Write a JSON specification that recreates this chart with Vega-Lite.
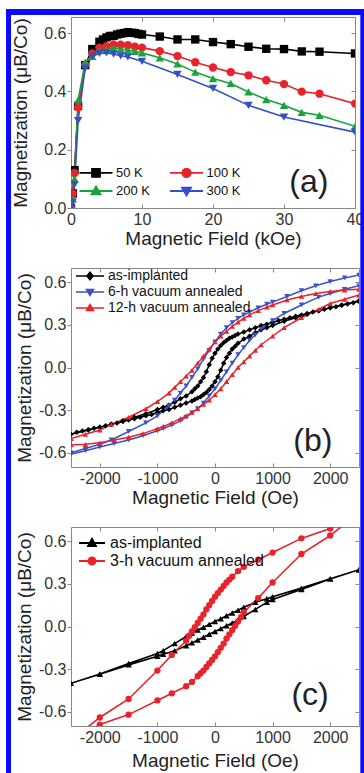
{
  "$schema": "https://vega.github.io/schema/vega-lite/v6.json",
  "padding": {"left": 2, "top": 6, "right": 0, "bottom": 0},
  "background": "white",
  "bounds": "flush",
  "spacing": 60,
  "resolve": {"scale": {"color": "independent", "shape": "independent"}, "legend": {"color": "independent", "shape": "independent"}},
  "datasets": {
    "a": [
      {"H":0,"M":0,"T":"50 K"},{"H":0.25,"M":0.05,"T":"50 K"},{"H":0.5,"M":0.13,"T":"50 K"},{"H":1,"M":0.35,"T":"50 K"},{"H":2,"M":0.49,"T":"50 K"},{"H":3,"M":0.545,"T":"50 K"},{"H":4,"M":0.57,"T":"50 K"},{"H":4.5,"M":0.578,"T":"50 K"},{"H":5,"M":0.585,"T":"50 K"},{"H":5.5,"M":0.59,"T":"50 K"},{"H":6,"M":0.59,"T":"50 K"},{"H":6.5,"M":0.595,"T":"50 K"},{"H":7,"M":0.598,"T":"50 K"},{"H":7.5,"M":0.6,"T":"50 K"},{"H":8,"M":0.603,"T":"50 K"},{"H":8.5,"M":0.601,"T":"50 K"},{"H":9,"M":0.6,"T":"50 K"},{"H":9.5,"M":0.597,"T":"50 K"},{"H":10,"M":0.595,"T":"50 K"},{"H":12.5,"M":0.588,"T":"50 K"},{"H":15,"M":0.578,"T":"50 K"},{"H":17.5,"M":0.578,"T":"50 K"},{"H":20,"M":0.569,"T":"50 K"},{"H":22.5,"M":0.562,"T":"50 K"},{"H":25,"M":0.553,"T":"50 K"},{"H":27.5,"M":0.546,"T":"50 K"},{"H":30,"M":0.545,"T":"50 K"},{"H":32.5,"M":0.537,"T":"50 K"},{"H":35,"M":0.536,"T":"50 K"},{"H":40,"M":0.53,"T":"50 K"},
      {"H":0,"M":0,"T":"100 K"},{"H":0.25,"M":0.05,"T":"100 K"},{"H":0.5,"M":0.12,"T":"100 K"},{"H":1,"M":0.345,"T":"100 K"},{"H":2,"M":0.49,"T":"100 K"},{"H":3,"M":0.53,"T":"100 K"},{"H":4,"M":0.55,"T":"100 K"},{"H":5,"M":0.555,"T":"100 K"},{"H":6,"M":0.56,"T":"100 K"},{"H":7,"M":0.56,"T":"100 K"},{"H":8,"M":0.558,"T":"100 K"},{"H":9,"M":0.553,"T":"100 K"},{"H":10,"M":0.55,"T":"100 K"},{"H":12.5,"M":0.538,"T":"100 K"},{"H":15,"M":0.521,"T":"100 K"},{"H":17.5,"M":0.5,"T":"100 K"},{"H":20,"M":0.482,"T":"100 K"},{"H":22.5,"M":0.466,"T":"100 K"},{"H":25,"M":0.455,"T":"100 K"},{"H":27.5,"M":0.438,"T":"100 K"},{"H":30,"M":0.425,"T":"100 K"},{"H":32.5,"M":0.399,"T":"100 K"},{"H":35,"M":0.392,"T":"100 K"},{"H":40,"M":0.358,"T":"100 K"},
      {"H":0,"M":0.01,"T":"200 K"},{"H":0.25,"M":0.03,"T":"200 K"},{"H":0.5,"M":0.1,"T":"200 K"},{"H":1,"M":0.37,"T":"200 K"},{"H":2,"M":0.5,"T":"200 K"},{"H":3,"M":0.52,"T":"200 K"},{"H":4,"M":0.54,"T":"200 K"},{"H":5,"M":0.545,"T":"200 K"},{"H":6,"M":0.548,"T":"200 K"},{"H":7,"M":0.545,"T":"200 K"},{"H":8,"M":0.542,"T":"200 K"},{"H":9,"M":0.537,"T":"200 K"},{"H":10,"M":0.532,"T":"200 K"},{"H":12.5,"M":0.515,"T":"200 K"},{"H":15,"M":0.494,"T":"200 K"},{"H":17.5,"M":0.466,"T":"200 K"},{"H":20,"M":0.444,"T":"200 K"},{"H":22.5,"M":0.427,"T":"200 K"},{"H":25,"M":0.398,"T":"200 K"},{"H":27.5,"M":0.372,"T":"200 K"},{"H":30,"M":0.352,"T":"200 K"},{"H":32.5,"M":0.328,"T":"200 K"},{"H":35,"M":0.318,"T":"200 K"},{"H":40,"M":0.28,"T":"200 K"},
      {"H":0,"M":0,"T":"300 K"},{"H":0.25,"M":0.02,"T":"300 K"},{"H":0.5,"M":0.08,"T":"300 K"},{"H":1,"M":0.3,"T":"300 K"},{"H":2,"M":0.48,"T":"300 K"},{"H":3,"M":0.52,"T":"300 K"},{"H":4,"M":0.53,"T":"300 K"},{"H":5,"M":0.532,"T":"300 K"},{"H":6,"M":0.528,"T":"300 K"},{"H":7,"M":0.522,"T":"300 K"},{"H":8,"M":0.518,"T":"300 K"},{"H":10,"M":0.503,"T":"300 K"},{"H":15,"M":0.458,"T":"300 K"},{"H":20,"M":0.41,"T":"300 K"},{"H":25,"M":0.352,"T":"300 K"},{"H":30,"M":0.312,"T":"300 K"},{"H":40,"M":0.26,"T":"300 K"}
    ],
    "b": [
      {"i":0,"H":2500,"M":0.465,"S":"as-implanted"},{"i":1,"H":2400,"M":0.455,"S":"as-implanted"},{"i":2,"H":2300,"M":0.447,"S":"as-implanted"},{"i":3,"H":2200,"M":0.438,"S":"as-implanted"},{"i":4,"H":2100,"M":0.428,"S":"as-implanted"},{"i":5,"H":2000,"M":0.42,"S":"as-implanted"},{"i":6,"H":1900,"M":0.41,"S":"as-implanted"},{"i":7,"H":1800,"M":0.4,"S":"as-implanted"},{"i":8,"H":1700,"M":0.39,"S":"as-implanted"},{"i":9,"H":1600,"M":0.38,"S":"as-implanted"},{"i":10,"H":1500,"M":0.37,"S":"as-implanted"},{"i":11,"H":1400,"M":0.36,"S":"as-implanted"},{"i":12,"H":1300,"M":0.35,"S":"as-implanted"},{"i":13,"H":1200,"M":0.34,"S":"as-implanted"},{"i":14,"H":1100,"M":0.33,"S":"as-implanted"},{"i":15,"H":1000,"M":0.315,"S":"as-implanted"},{"i":16,"H":900,"M":0.305,"S":"as-implanted"},{"i":17,"H":800,"M":0.295,"S":"as-implanted"},{"i":18,"H":700,"M":0.28,"S":"as-implanted"},{"i":19,"H":600,"M":0.265,"S":"as-implanted"},{"i":20,"H":500,"M":0.25,"S":"as-implanted"},{"i":21,"H":400,"M":0.235,"S":"as-implanted"},{"i":22,"H":350,"M":0.225,"S":"as-implanted"},{"i":23,"H":300,"M":0.215,"S":"as-implanted"},{"i":24,"H":250,"M":0.205,"S":"as-implanted"},{"i":25,"H":200,"M":0.19,"S":"as-implanted"},{"i":26,"H":150,"M":0.175,"S":"as-implanted"},{"i":27,"H":100,"M":0.155,"S":"as-implanted"},{"i":28,"H":50,"M":0.13,"S":"as-implanted"},{"i":29,"H":0,"M":0.1,"S":"as-implanted"},{"i":30,"H":-50,"M":0.065,"S":"as-implanted"},{"i":31,"H":-100,"M":0.02,"S":"as-implanted"},{"i":32,"H":-150,"M":-0.03,"S":"as-implanted"},{"i":33,"H":-200,"M":-0.07,"S":"as-implanted"},{"i":34,"H":-250,"M":-0.1,"S":"as-implanted"},{"i":35,"H":-300,"M":-0.13,"S":"as-implanted"},{"i":36,"H":-350,"M":-0.15,"S":"as-implanted"},{"i":37,"H":-400,"M":-0.17,"S":"as-implanted"},{"i":38,"H":-500,"M":-0.2,"S":"as-implanted"},{"i":39,"H":-600,"M":-0.22,"S":"as-implanted"},{"i":40,"H":-700,"M":-0.245,"S":"as-implanted"},{"i":41,"H":-800,"M":-0.265,"S":"as-implanted"},{"i":42,"H":-900,"M":-0.28,"S":"as-implanted"},{"i":43,"H":-1000,"M":-0.295,"S":"as-implanted"},{"i":44,"H":-1200,"M":-0.325,"S":"as-implanted"},{"i":45,"H":-1400,"M":-0.35,"S":"as-implanted"},{"i":46,"H":-1600,"M":-0.375,"S":"as-implanted"},{"i":47,"H":-1800,"M":-0.4,"S":"as-implanted"},{"i":48,"H":-2000,"M":-0.42,"S":"as-implanted"},{"i":49,"H":-2200,"M":-0.44,"S":"as-implanted"},{"i":50,"H":-2500,"M":-0.47,"S":"as-implanted"},
      {"i":51,"H":-2400,"M":-0.455,"S":"as-implanted"},{"i":52,"H":-2300,"M":-0.447,"S":"as-implanted"},{"i":53,"H":-2200,"M":-0.438,"S":"as-implanted"},{"i":54,"H":-2100,"M":-0.428,"S":"as-implanted"},{"i":55,"H":-2000,"M":-0.42,"S":"as-implanted"},{"i":56,"H":-1900,"M":-0.41,"S":"as-implanted"},{"i":57,"H":-1800,"M":-0.4,"S":"as-implanted"},{"i":58,"H":-1700,"M":-0.39,"S":"as-implanted"},{"i":59,"H":-1600,"M":-0.38,"S":"as-implanted"},{"i":60,"H":-1500,"M":-0.37,"S":"as-implanted"},{"i":61,"H":-1400,"M":-0.36,"S":"as-implanted"},{"i":62,"H":-1300,"M":-0.35,"S":"as-implanted"},{"i":63,"H":-1200,"M":-0.34,"S":"as-implanted"},{"i":64,"H":-1100,"M":-0.33,"S":"as-implanted"},{"i":65,"H":-1000,"M":-0.315,"S":"as-implanted"},{"i":66,"H":-900,"M":-0.305,"S":"as-implanted"},{"i":67,"H":-800,"M":-0.295,"S":"as-implanted"},{"i":68,"H":-700,"M":-0.28,"S":"as-implanted"},{"i":69,"H":-600,"M":-0.265,"S":"as-implanted"},{"i":70,"H":-500,"M":-0.25,"S":"as-implanted"},{"i":71,"H":-400,"M":-0.235,"S":"as-implanted"},{"i":72,"H":-350,"M":-0.225,"S":"as-implanted"},{"i":73,"H":-300,"M":-0.215,"S":"as-implanted"},{"i":74,"H":-250,"M":-0.205,"S":"as-implanted"},{"i":75,"H":-200,"M":-0.19,"S":"as-implanted"},{"i":76,"H":-150,"M":-0.175,"S":"as-implanted"},{"i":77,"H":-100,"M":-0.155,"S":"as-implanted"},{"i":78,"H":-50,"M":-0.13,"S":"as-implanted"},{"i":79,"H":0,"M":-0.1,"S":"as-implanted"},{"i":80,"H":50,"M":-0.065,"S":"as-implanted"},{"i":81,"H":100,"M":-0.02,"S":"as-implanted"},{"i":82,"H":150,"M":0.03,"S":"as-implanted"},{"i":83,"H":200,"M":0.07,"S":"as-implanted"},{"i":84,"H":250,"M":0.1,"S":"as-implanted"},{"i":85,"H":300,"M":0.13,"S":"as-implanted"},{"i":86,"H":350,"M":0.15,"S":"as-implanted"},{"i":87,"H":400,"M":0.17,"S":"as-implanted"},{"i":88,"H":500,"M":0.2,"S":"as-implanted"},{"i":89,"H":600,"M":0.22,"S":"as-implanted"},{"i":90,"H":700,"M":0.245,"S":"as-implanted"},{"i":91,"H":800,"M":0.265,"S":"as-implanted"},{"i":92,"H":900,"M":0.28,"S":"as-implanted"},{"i":93,"H":1000,"M":0.295,"S":"as-implanted"},{"i":94,"H":1200,"M":0.325,"S":"as-implanted"},{"i":95,"H":1400,"M":0.35,"S":"as-implanted"},{"i":96,"H":1600,"M":0.375,"S":"as-implanted"},{"i":97,"H":1800,"M":0.4,"S":"as-implanted"},{"i":98,"H":2000,"M":0.42,"S":"as-implanted"},{"i":99,"H":2200,"M":0.44,"S":"as-implanted"},{"i":100,"H":2500,"M":0.47,"S":"as-implanted"},
      {"i":0,"H":2500,"M":0.65,"S":"6-h vacuum annealed"},{"i":1,"H":2250,"M":0.63,"S":"6-h vacuum annealed"},{"i":2,"H":2000,"M":0.605,"S":"6-h vacuum annealed"},{"i":3,"H":1750,"M":0.575,"S":"6-h vacuum annealed"},{"i":4,"H":1500,"M":0.54,"S":"6-h vacuum annealed"},{"i":5,"H":1250,"M":0.5,"S":"6-h vacuum annealed"},{"i":6,"H":1000,"M":0.46,"S":"6-h vacuum annealed"},{"i":7,"H":900,"M":0.445,"S":"6-h vacuum annealed"},{"i":8,"H":750,"M":0.42,"S":"6-h vacuum annealed"},{"i":9,"H":600,"M":0.39,"S":"6-h vacuum annealed"},{"i":10,"H":500,"M":0.37,"S":"6-h vacuum annealed"},{"i":11,"H":400,"M":0.345,"S":"6-h vacuum annealed"},{"i":12,"H":300,"M":0.315,"S":"6-h vacuum annealed"},{"i":13,"H":200,"M":0.28,"S":"6-h vacuum annealed"},{"i":14,"H":100,"M":0.235,"S":"6-h vacuum annealed"},{"i":15,"H":0,"M":0.18,"S":"6-h vacuum annealed"},{"i":16,"H":-100,"M":0.12,"S":"6-h vacuum annealed"},{"i":17,"H":-200,"M":0.06,"S":"6-h vacuum annealed"},{"i":18,"H":-300,"M":-0.01,"S":"6-h vacuum annealed"},{"i":19,"H":-400,"M":-0.07,"S":"6-h vacuum annealed"},{"i":20,"H":-500,"M":-0.13,"S":"6-h vacuum annealed"},{"i":21,"H":-600,"M":-0.18,"S":"6-h vacuum annealed"},{"i":22,"H":-700,"M":-0.23,"S":"6-h vacuum annealed"},{"i":23,"H":-800,"M":-0.27,"S":"6-h vacuum annealed"},{"i":24,"H":-1000,"M":-0.34,"S":"6-h vacuum annealed"},{"i":25,"H":-1200,"M":-0.39,"S":"6-h vacuum annealed"},{"i":26,"H":-1500,"M":-0.45,"S":"6-h vacuum annealed"},{"i":27,"H":-1800,"M":-0.51,"S":"6-h vacuum annealed"},{"i":28,"H":-2000,"M":-0.54,"S":"6-h vacuum annealed"},{"i":29,"H":-2250,"M":-0.57,"S":"6-h vacuum annealed"},{"i":30,"H":-2500,"M":-0.6,"S":"6-h vacuum annealed"},
      {"i":31,"H":-2500,"M":-0.61,"S":"6-h vacuum annealed"},{"i":32,"H":-2250,"M":-0.585,"S":"6-h vacuum annealed"},{"i":33,"H":-2000,"M":-0.56,"S":"6-h vacuum annealed"},{"i":34,"H":-1750,"M":-0.535,"S":"6-h vacuum annealed"},{"i":35,"H":-1500,"M":-0.51,"S":"6-h vacuum annealed"},{"i":36,"H":-1250,"M":-0.48,"S":"6-h vacuum annealed"},{"i":37,"H":-1000,"M":-0.445,"S":"6-h vacuum annealed"},{"i":38,"H":-900,"M":-0.43,"S":"6-h vacuum annealed"},{"i":39,"H":-750,"M":-0.405,"S":"6-h vacuum annealed"},{"i":40,"H":-600,"M":-0.375,"S":"6-h vacuum annealed"},{"i":41,"H":-500,"M":-0.35,"S":"6-h vacuum annealed"},{"i":42,"H":-400,"M":-0.32,"S":"6-h vacuum annealed"},{"i":43,"H":-300,"M":-0.29,"S":"6-h vacuum annealed"},{"i":44,"H":-200,"M":-0.25,"S":"6-h vacuum annealed"},{"i":45,"H":-100,"M":-0.2,"S":"6-h vacuum annealed"},{"i":46,"H":0,"M":-0.15,"S":"6-h vacuum annealed"},{"i":47,"H":100,"M":-0.09,"S":"6-h vacuum annealed"},{"i":48,"H":200,"M":-0.03,"S":"6-h vacuum annealed"},{"i":49,"H":300,"M":0.03,"S":"6-h vacuum annealed"},{"i":50,"H":400,"M":0.09,"S":"6-h vacuum annealed"},{"i":51,"H":500,"M":0.14,"S":"6-h vacuum annealed"},{"i":52,"H":600,"M":0.19,"S":"6-h vacuum annealed"},{"i":53,"H":700,"M":0.23,"S":"6-h vacuum annealed"},{"i":54,"H":800,"M":0.27,"S":"6-h vacuum annealed"},{"i":55,"H":1000,"M":0.33,"S":"6-h vacuum annealed"},{"i":56,"H":1200,"M":0.38,"S":"6-h vacuum annealed"},{"i":57,"H":1500,"M":0.44,"S":"6-h vacuum annealed"},{"i":58,"H":1800,"M":0.495,"S":"6-h vacuum annealed"},{"i":59,"H":2000,"M":0.52,"S":"6-h vacuum annealed"},{"i":60,"H":2250,"M":0.55,"S":"6-h vacuum annealed"},{"i":61,"H":2500,"M":0.575,"S":"6-h vacuum annealed"},
      {"i":0,"H":2500,"M":0.55,"S":"12-h vacuum annealed"},{"i":1,"H":2250,"M":0.545,"S":"12-h vacuum annealed"},{"i":2,"H":2000,"M":0.535,"S":"12-h vacuum annealed"},{"i":3,"H":1750,"M":0.52,"S":"12-h vacuum annealed"},{"i":4,"H":1500,"M":0.5,"S":"12-h vacuum annealed"},{"i":5,"H":1250,"M":0.475,"S":"12-h vacuum annealed"},{"i":6,"H":1000,"M":0.44,"S":"12-h vacuum annealed"},{"i":7,"H":900,"M":0.425,"S":"12-h vacuum annealed"},{"i":8,"H":750,"M":0.4,"S":"12-h vacuum annealed"},{"i":9,"H":600,"M":0.37,"S":"12-h vacuum annealed"},{"i":10,"H":500,"M":0.345,"S":"12-h vacuum annealed"},{"i":11,"H":400,"M":0.32,"S":"12-h vacuum annealed"},{"i":12,"H":300,"M":0.29,"S":"12-h vacuum annealed"},{"i":13,"H":200,"M":0.255,"S":"12-h vacuum annealed"},{"i":14,"H":100,"M":0.22,"S":"12-h vacuum annealed"},{"i":15,"H":0,"M":0.18,"S":"12-h vacuum annealed"},{"i":16,"H":-100,"M":0.13,"S":"12-h vacuum annealed"},{"i":17,"H":-200,"M":0.08,"S":"12-h vacuum annealed"},{"i":18,"H":-300,"M":0.03,"S":"12-h vacuum annealed"},{"i":19,"H":-400,"M":-0.02,"S":"12-h vacuum annealed"},{"i":20,"H":-500,"M":-0.06,"S":"12-h vacuum annealed"},{"i":21,"H":-600,"M":-0.1,"S":"12-h vacuum annealed"},{"i":22,"H":-700,"M":-0.14,"S":"12-h vacuum annealed"},{"i":23,"H":-800,"M":-0.18,"S":"12-h vacuum annealed"},{"i":24,"H":-1000,"M":-0.24,"S":"12-h vacuum annealed"},{"i":25,"H":-1200,"M":-0.29,"S":"12-h vacuum annealed"},{"i":26,"H":-1500,"M":-0.35,"S":"12-h vacuum annealed"},{"i":27,"H":-1800,"M":-0.4,"S":"12-h vacuum annealed"},{"i":28,"H":-2000,"M":-0.44,"S":"12-h vacuum annealed"},{"i":29,"H":-2250,"M":-0.47,"S":"12-h vacuum annealed"},{"i":30,"H":-2500,"M":-0.5,"S":"12-h vacuum annealed"},
      {"i":31,"H":-2500,"M":-0.545,"S":"12-h vacuum annealed"},{"i":32,"H":-2250,"M":-0.54,"S":"12-h vacuum annealed"},{"i":33,"H":-2000,"M":-0.53,"S":"12-h vacuum annealed"},{"i":34,"H":-1750,"M":-0.51,"S":"12-h vacuum annealed"},{"i":35,"H":-1500,"M":-0.49,"S":"12-h vacuum annealed"},{"i":36,"H":-1250,"M":-0.465,"S":"12-h vacuum annealed"},{"i":37,"H":-1000,"M":-0.43,"S":"12-h vacuum annealed"},{"i":38,"H":-900,"M":-0.415,"S":"12-h vacuum annealed"},{"i":39,"H":-750,"M":-0.39,"S":"12-h vacuum annealed"},{"i":40,"H":-600,"M":-0.36,"S":"12-h vacuum annealed"},{"i":41,"H":-500,"M":-0.34,"S":"12-h vacuum annealed"},{"i":42,"H":-400,"M":-0.315,"S":"12-h vacuum annealed"},{"i":43,"H":-300,"M":-0.29,"S":"12-h vacuum annealed"},{"i":44,"H":-200,"M":-0.26,"S":"12-h vacuum annealed"},{"i":45,"H":-100,"M":-0.23,"S":"12-h vacuum annealed"},{"i":46,"H":0,"M":-0.19,"S":"12-h vacuum annealed"},{"i":47,"H":100,"M":-0.15,"S":"12-h vacuum annealed"},{"i":48,"H":200,"M":-0.1,"S":"12-h vacuum annealed"},{"i":49,"H":300,"M":-0.05,"S":"12-h vacuum annealed"},{"i":50,"H":400,"M":0,"S":"12-h vacuum annealed"},{"i":51,"H":500,"M":0.04,"S":"12-h vacuum annealed"},{"i":52,"H":600,"M":0.08,"S":"12-h vacuum annealed"},{"i":53,"H":700,"M":0.12,"S":"12-h vacuum annealed"},{"i":54,"H":800,"M":0.16,"S":"12-h vacuum annealed"},{"i":55,"H":1000,"M":0.22,"S":"12-h vacuum annealed"},{"i":56,"H":1200,"M":0.28,"S":"12-h vacuum annealed"},{"i":57,"H":1500,"M":0.35,"S":"12-h vacuum annealed"},{"i":58,"H":1800,"M":0.41,"S":"12-h vacuum annealed"},{"i":59,"H":2000,"M":0.45,"S":"12-h vacuum annealed"},{"i":60,"H":2250,"M":0.48,"S":"12-h vacuum annealed"},{"i":61,"H":2500,"M":0.51,"S":"12-h vacuum annealed"}
    ],
    "c": [
      {"i":0,"H":2500,"M":0.4,"S":"as-implanted"},{"i":1,"H":2000,"M":0.335,"S":"as-implanted"},{"i":2,"H":1500,"M":0.27,"S":"as-implanted"},{"i":3,"H":1000,"M":0.21,"S":"as-implanted"},{"i":4,"H":900,"M":0.195,"S":"as-implanted"},{"i":5,"H":700,"M":0.17,"S":"as-implanted"},{"i":6,"H":500,"M":0.135,"S":"as-implanted"},{"i":7,"H":400,"M":0.115,"S":"as-implanted"},{"i":8,"H":300,"M":0.095,"S":"as-implanted"},{"i":9,"H":200,"M":0.075,"S":"as-implanted"},{"i":10,"H":100,"M":0.055,"S":"as-implanted"},{"i":11,"H":0,"M":0.035,"S":"as-implanted"},{"i":12,"H":-100,"M":0.015,"S":"as-implanted"},{"i":13,"H":-200,"M":-0.005,"S":"as-implanted"},{"i":14,"H":-300,"M":-0.025,"S":"as-implanted"},{"i":15,"H":-400,"M":-0.045,"S":"as-implanted"},{"i":16,"H":-500,"M":-0.07,"S":"as-implanted"},{"i":17,"H":-700,"M":-0.12,"S":"as-implanted"},{"i":18,"H":-900,"M":-0.17,"S":"as-implanted"},{"i":19,"H":-1000,"M":-0.19,"S":"as-implanted"},{"i":20,"H":-1500,"M":-0.26,"S":"as-implanted"},{"i":21,"H":-2000,"M":-0.335,"S":"as-implanted"},{"i":22,"H":-2500,"M":-0.4,"S":"as-implanted"},
      {"i":23,"H":-2000,"M":-0.335,"S":"as-implanted"},{"i":24,"H":-1500,"M":-0.27,"S":"as-implanted"},{"i":25,"H":-1000,"M":-0.21,"S":"as-implanted"},{"i":26,"H":-900,"M":-0.195,"S":"as-implanted"},{"i":27,"H":-700,"M":-0.17,"S":"as-implanted"},{"i":28,"H":-500,"M":-0.135,"S":"as-implanted"},{"i":29,"H":-400,"M":-0.115,"S":"as-implanted"},{"i":30,"H":-300,"M":-0.095,"S":"as-implanted"},{"i":31,"H":-200,"M":-0.075,"S":"as-implanted"},{"i":32,"H":-100,"M":-0.055,"S":"as-implanted"},{"i":33,"H":0,"M":-0.035,"S":"as-implanted"},{"i":34,"H":100,"M":-0.015,"S":"as-implanted"},{"i":35,"H":200,"M":0.005,"S":"as-implanted"},{"i":36,"H":300,"M":0.025,"S":"as-implanted"},{"i":37,"H":400,"M":0.045,"S":"as-implanted"},{"i":38,"H":500,"M":0.07,"S":"as-implanted"},{"i":39,"H":700,"M":0.12,"S":"as-implanted"},{"i":40,"H":900,"M":0.17,"S":"as-implanted"},{"i":41,"H":1000,"M":0.19,"S":"as-implanted"},{"i":42,"H":1500,"M":0.26,"S":"as-implanted"},{"i":43,"H":2000,"M":0.335,"S":"as-implanted"},{"i":44,"H":2500,"M":0.4,"S":"as-implanted"},
      {"i":0,"H":2500,"M":0.8,"S":"3-h vacuum annealed"},{"i":1,"H":2000,"M":0.69,"S":"3-h vacuum annealed"},{"i":2,"H":1500,"M":0.62,"S":"3-h vacuum annealed"},{"i":3,"H":1000,"M":0.52,"S":"3-h vacuum annealed"},{"i":4,"H":750,"M":0.47,"S":"3-h vacuum annealed"},{"i":5,"H":500,"M":0.42,"S":"3-h vacuum annealed"},{"i":6,"H":400,"M":0.39,"S":"3-h vacuum annealed"},{"i":7,"H":300,"M":0.35,"S":"3-h vacuum annealed"},{"i":8,"H":250,"M":0.33,"S":"3-h vacuum annealed"},{"i":9,"H":200,"M":0.31,"S":"3-h vacuum annealed"},{"i":10,"H":150,"M":0.285,"S":"3-h vacuum annealed"},{"i":11,"H":100,"M":0.26,"S":"3-h vacuum annealed"},{"i":12,"H":50,"M":0.235,"S":"3-h vacuum annealed"},{"i":13,"H":0,"M":0.21,"S":"3-h vacuum annealed"},{"i":14,"H":-50,"M":0.18,"S":"3-h vacuum annealed"},{"i":15,"H":-100,"M":0.15,"S":"3-h vacuum annealed"},{"i":16,"H":-150,"M":0.12,"S":"3-h vacuum annealed"},{"i":17,"H":-200,"M":0.085,"S":"3-h vacuum annealed"},{"i":18,"H":-250,"M":0.055,"S":"3-h vacuum annealed"},{"i":19,"H":-300,"M":0.025,"S":"3-h vacuum annealed"},{"i":20,"H":-350,"M":-0.005,"S":"3-h vacuum annealed"},{"i":21,"H":-400,"M":-0.035,"S":"3-h vacuum annealed"},{"i":22,"H":-450,"M":-0.065,"S":"3-h vacuum annealed"},{"i":23,"H":-500,"M":-0.1,"S":"3-h vacuum annealed"},{"i":24,"H":-750,"M":-0.2,"S":"3-h vacuum annealed"},{"i":25,"H":-1000,"M":-0.31,"S":"3-h vacuum annealed"},{"i":26,"H":-1500,"M":-0.51,"S":"3-h vacuum annealed"},{"i":27,"H":-2000,"M":-0.64,"S":"3-h vacuum annealed"},{"i":28,"H":-2500,"M":-0.8,"S":"3-h vacuum annealed"},
      {"i":29,"H":-2000,"M":-0.69,"S":"3-h vacuum annealed"},{"i":30,"H":-1500,"M":-0.62,"S":"3-h vacuum annealed"},{"i":31,"H":-1000,"M":-0.52,"S":"3-h vacuum annealed"},{"i":32,"H":-750,"M":-0.47,"S":"3-h vacuum annealed"},{"i":33,"H":-500,"M":-0.42,"S":"3-h vacuum annealed"},{"i":34,"H":-400,"M":-0.39,"S":"3-h vacuum annealed"},{"i":35,"H":-300,"M":-0.35,"S":"3-h vacuum annealed"},{"i":36,"H":-250,"M":-0.33,"S":"3-h vacuum annealed"},{"i":37,"H":-200,"M":-0.31,"S":"3-h vacuum annealed"},{"i":38,"H":-150,"M":-0.285,"S":"3-h vacuum annealed"},{"i":39,"H":-100,"M":-0.26,"S":"3-h vacuum annealed"},{"i":40,"H":-50,"M":-0.235,"S":"3-h vacuum annealed"},{"i":41,"H":0,"M":-0.21,"S":"3-h vacuum annealed"},{"i":42,"H":50,"M":-0.18,"S":"3-h vacuum annealed"},{"i":43,"H":100,"M":-0.15,"S":"3-h vacuum annealed"},{"i":44,"H":150,"M":-0.12,"S":"3-h vacuum annealed"},{"i":45,"H":200,"M":-0.085,"S":"3-h vacuum annealed"},{"i":46,"H":250,"M":-0.055,"S":"3-h vacuum annealed"},{"i":47,"H":300,"M":-0.025,"S":"3-h vacuum annealed"},{"i":48,"H":350,"M":0.005,"S":"3-h vacuum annealed"},{"i":49,"H":400,"M":0.035,"S":"3-h vacuum annealed"},{"i":50,"H":450,"M":0.065,"S":"3-h vacuum annealed"},{"i":51,"H":500,"M":0.1,"S":"3-h vacuum annealed"},{"i":52,"H":750,"M":0.2,"S":"3-h vacuum annealed"},{"i":53,"H":1000,"M":0.31,"S":"3-h vacuum annealed"},{"i":54,"H":1500,"M":0.51,"S":"3-h vacuum annealed"},{"i":55,"H":2000,"M":0.64,"S":"3-h vacuum annealed"},{"i":56,"H":2500,"M":0.8,"S":"3-h vacuum annealed"}
    ],
    "la": [{"lbl": "(a)"}],
    "lb": [{"lbl": "(b)"}],
    "lc": [{"lbl": "(c)"}],
    "frame": [{"k": 1}]
  },
  "vconcat": [
    {
      "width": 284, "height": 191,
      "resolve": {"scale": {"color": "independent", "shape": "independent"}, "legend": {"color": "independent"}, "axis": {"x": "independent", "y": "independent"}},
      "layer": [
        {"data": {"name": "a"},
         "mark": {"type": "line", "strokeWidth": 1.6, "clip": true},
         "encoding": {
           "x": {"field": "H", "type": "quantitative", "scale": {"domain": [0, 40], "nice": false, "zero": false},
                 "axis": {"values": [0, 10, 20, 30, 40], "format": "d", "title": "Magnetic Field (kOe)", "titleY": 30}},
           "y": {"field": "M", "type": "quantitative", "scale": {"domain": [0, 0.655], "nice": false, "zero": false},
                 "axis": {"values": [0, 0.2, 0.4, 0.6], "format": ".1f", "title": "Magnetization (μB/Co)", "titleX": -51}},
           "color": {"field": "T", "type": "nominal", "scale": {"domain": ["50 K", "100 K", "200 K", "300 K"], "range": ["#000000", "#e8232b", "#1ba33b", "#3450c6"]},
                     "legend": {"orient": "none", "direction": "horizontal", "legendX": 18.5, "legendY": 149, "columns": 2, "columnPadding": 15.5, "rowPadding": 1.5, "symbolSize": 100, "symbolOpacity": 1, "labelFontSize": 13, "labelColor": "#111", "labelOffset": 13.5, "title": null, "padding": 0,
                                "encode": {"symbols": {"update": {
                                  "shape": {"signal": "['M-3.3,0H3.3M-0.8,-0.8H0.8V0.8H-0.8Z','M-3.3,0H3.3M-0.85,0A0.85,0.85,0,1,1,0.85,0A0.85,0.85,0,1,1,-0.85,0Z','M-3.3,0H3.3M0,-0.9L0.9,0.65H-0.9Z','M-3.3,0H3.3M0,0.9L0.9,-0.65H-0.9Z'][indexof(['50 K','100 K','200 K','300 K'], datum.value)]"},
                                  "fill": {"signal": "['#000000','#e8232b','#1ba33b','#3450c6'][indexof(['50 K','100 K','200 K','300 K'], datum.value)]"},
                                  "stroke": {"signal": "['#000000','#e8232b','#1ba33b','#3450c6'][indexof(['50 K','100 K','200 K','300 K'], datum.value)]"},
                                  "strokeWidth": {"value": 1.8}, "size": {"value": 100}, "opacity": {"value": 1}, "fillOpacity": {"value": 1}, "strokeOpacity": {"value": 1}}}}}}
         }},
        {"data": {"name": "a"},
         "mark": {"type": "point", "filled": true, "opacity": 1, "size": 70, "clip": true},
         "encoding": {
           "x": {"field": "H", "type": "quantitative", "axis": null},
           "y": {"field": "M", "type": "quantitative", "axis": null},
           "color": {"field": "T", "type": "nominal", "scale": {"domain": ["50 K", "100 K", "200 K", "300 K"], "range": ["#000000", "#e8232b", "#1ba33b", "#3450c6"]}, "legend": null},
           "shape": {"field": "T", "type": "nominal", "scale": {"domain": ["50 K", "100 K", "200 K", "300 K"], "range": ["square", "circle", "triangle-up", "triangle-down"]}, "legend": null}}},
        {"data": {"name": "la"},
         "mark": {"type": "text", "fontSize": 32, "color": "#222", "align": "center", "baseline": "middle"},
         "encoding": {"text": {"field": "lbl", "type": "nominal"},
                      "x": {"datum": 33.5, "type": "quantitative", "axis": {"orient": "top", "values": [0, 10, 20, 30, 40], "labels": false, "title": null, "tickSize": -4}},
                      "y": {"datum": 0.09, "type": "quantitative", "axis": {"orient": "right", "values": [0, 0.2, 0.4, 0.6], "labels": false, "title": null, "tickSize": -4}}}},
        {"data": {"name": "frame"},
         "mark": {"type": "rule", "color": "#0a0aff", "strokeWidth": 5, "strokeCap": "butt"},
         "encoding": {"x": {"datum": -8.8, "type": "quantitative", "axis": null},
                      "y": {"datum": 0.682, "type": "quantitative", "axis": null},
                      "y2": {"datum": -2.0}}},
        {"data": {"name": "frame"},
         "mark": {"type": "rule", "color": "#0a0aff", "strokeWidth": 5, "strokeCap": "butt"},
         "encoding": {"x": {"datum": 41.1, "type": "quantitative", "axis": null},
                      "y": {"datum": 0.682, "type": "quantitative", "axis": null},
                      "y2": {"datum": -2.0}}},
        {"data": {"name": "frame"},
         "mark": {"type": "rule", "color": "#0a0aff", "strokeWidth": 6, "strokeCap": "butt"},
         "encoding": {"y": {"datum": 0.672, "type": "quantitative", "axis": null},
                      "x": {"datum": -9.15, "type": "quantitative", "axis": null},
                      "x2": {"datum": 41.6}}}
      ]
    },
    {
      "width": 288, "height": 199,
      "resolve": {"scale": {"color": "independent", "shape": "independent"}, "legend": {"color": "independent"}, "axis": {"x": "independent", "y": "independent"}},
      "layer": [
        {"data": {"name": "b"},
         "mark": {"type": "line", "strokeWidth": 1.5, "clip": true},
         "encoding": {
           "x": {"field": "H", "type": "quantitative", "scale": {"domain": [-2500, 2500], "nice": false, "zero": false},
                 "axis": {"values": [-2000, -1000, 0, 1000, 2000], "format": "d", "title": "Magnetic Field (Oe)", "titleY": 30}},
           "y": {"field": "M", "type": "quantitative", "scale": {"domain": [-0.7, 0.7], "nice": false, "zero": false},
                 "axis": {"values": [-0.6, -0.3, 0, 0.3, 0.6], "format": ".1f", "title": "Magnetization (μB/Co)", "titleX": -47}},
           "order": {"field": "i", "type": "quantitative"},
           "color": {"field": "S", "type": "nominal", "scale": {"domain": ["as-implanted", "6-h vacuum annealed", "12-h vacuum annealed"], "range": ["#000000", "#3a52c8", "#e8232b"]},
                     "legend": {"orient": "none", "legendX": 12, "legendY": 1, "rowPadding": 2, "symbolSize": 64, "symbolOpacity": 1, "labelFontSize": 14, "labelColor": "#111", "labelOffset": 11, "title": null, "padding": 0,
                                "encode": {"symbols": {"update": {
                                  "shape": {"signal": "['M-3.5,0H3.5M0,-0.95L0.75,0L0,0.95L-0.75,0Z','M-3.5,0H3.5M0,0.85L0.85,-0.6H-0.85Z','M-3.5,0H3.5M0,-0.85L0.85,0.6H-0.85Z'][indexof(['as-implanted','6-h vacuum annealed','12-h vacuum annealed'], datum.value)]"},
                                  "fill": {"signal": "['#000000','#3a52c8','#e8232b'][indexof(['as-implanted','6-h vacuum annealed','12-h vacuum annealed'], datum.value)]"},
                                  "stroke": {"signal": "['#000000','#3a52c8','#e8232b'][indexof(['as-implanted','6-h vacuum annealed','12-h vacuum annealed'], datum.value)]"},
                                  "strokeWidth": {"value": 1.6}, "size": {"value": 64}, "opacity": {"value": 1}, "fillOpacity": {"value": 1}, "strokeOpacity": {"value": 1}}}}}}
         }},
        {"data": {"name": "b"},
         "mark": {"type": "point", "filled": true, "opacity": 1, "size": 30, "clip": true},
         "encoding": {
           "x": {"field": "H", "type": "quantitative", "axis": null},
           "y": {"field": "M", "type": "quantitative", "axis": null},
           "color": {"field": "S", "type": "nominal", "scale": {"domain": ["as-implanted", "6-h vacuum annealed", "12-h vacuum annealed"], "range": ["#000000", "#3a52c8", "#e8232b"]}, "legend": null},
           "shape": {"field": "S", "type": "nominal", "scale": {"domain": ["as-implanted", "6-h vacuum annealed", "12-h vacuum annealed"], "range": ["diamond", "triangle-down", "triangle-up"]}, "legend": null}}},
        {"data": {"name": "lb"},
         "mark": {"type": "text", "fontSize": 32, "color": "#222", "align": "center", "baseline": "middle"},
         "encoding": {"text": {"field": "lbl", "type": "nominal"},
                      "x": {"datum": 1700, "type": "quantitative", "axis": {"orient": "top", "values": [-2000, -1000, 0, 1000, 2000], "labels": false, "title": null, "tickSize": -4}},
                      "y": {"datum": -0.52, "type": "quantitative", "axis": {"orient": "right", "values": [-0.6, -0.3, 0, 0.3, 0.6], "labels": false, "title": null, "tickSize": -4}}}}
      ]
    },
    {
      "width": 288, "height": 199,
      "resolve": {"scale": {"color": "independent", "shape": "independent"}, "legend": {"color": "independent"}, "axis": {"x": "independent", "y": "independent"}},
      "layer": [
        {"data": {"name": "c"},
         "mark": {"type": "line", "strokeWidth": 1.6, "clip": true},
         "encoding": {
           "x": {"field": "H", "type": "quantitative", "scale": {"domain": [-2500, 2500], "nice": false, "zero": false},
                 "axis": {"values": [-2000, -1000, 0, 1000, 2000], "format": "d", "title": "Magnetic Field (Oe)", "titleY": 34}},
           "y": {"field": "M", "type": "quantitative", "scale": {"domain": [-0.7, 0.7], "nice": false, "zero": false},
                 "axis": {"values": [-0.6, -0.3, 0, 0.3, 0.6], "format": ".1f", "title": "Magnetization (μB/Co)", "titleX": -47}},
           "order": {"field": "i", "type": "quantitative"},
           "color": {"field": "S", "type": "nominal", "scale": {"domain": ["as-implanted", "3-h vacuum annealed"], "range": ["#000000", "#e8232b"]},
                     "legend": {"orient": "none", "legendX": 13, "legendY": 8, "rowPadding": 2, "symbolSize": 64, "symbolOpacity": 1, "labelFontSize": 16, "labelColor": "#111", "labelOffset": 10, "title": null, "padding": 0,
                                "encode": {"symbols": {"update": {
                                  "shape": {"signal": "['M-3.25,0H3.25M0,-1.05L1.0,0.75H-1.0Z','M-3.25,0H3.25M-0.9,0A0.9,0.9,0,1,1,0.9,0A0.9,0.9,0,1,1,-0.9,0Z'][indexof(['as-implanted','3-h vacuum annealed'], datum.value)]"},
                                  "fill": {"signal": "['#000000','#e8232b'][indexof(['as-implanted','3-h vacuum annealed'], datum.value)]"},
                                  "stroke": {"signal": "['#000000','#e8232b'][indexof(['as-implanted','3-h vacuum annealed'], datum.value)]"},
                                  "strokeWidth": {"value": 1.8}, "size": {"value": 64}, "opacity": {"value": 1}, "fillOpacity": {"value": 1}, "strokeOpacity": {"value": 1}}}}}}
         }},
        {"data": {"name": "c"},
         "mark": {"type": "point", "filled": true, "opacity": 1, "size": 40, "clip": true},
         "encoding": {
           "x": {"field": "H", "type": "quantitative", "axis": null},
           "y": {"field": "M", "type": "quantitative", "axis": null},
           "color": {"field": "S", "type": "nominal", "scale": {"domain": ["as-implanted", "3-h vacuum annealed"], "range": ["#000000", "#e8232b"]}, "legend": null},
           "shape": {"field": "S", "type": "nominal", "scale": {"domain": ["as-implanted", "3-h vacuum annealed"], "range": ["triangle-up", "circle"]}, "legend": null}}},
        {"data": {"name": "lc"},
         "mark": {"type": "text", "fontSize": 32, "color": "#222", "align": "center", "baseline": "middle"},
         "encoding": {"text": {"field": "lbl", "type": "nominal"},
                      "x": {"datum": 1650, "type": "quantitative", "axis": {"orient": "top", "values": [-2000, -1000, 0, 1000, 2000], "labels": false, "title": null, "tickSize": -4}},
                      "y": {"datum": -0.48, "type": "quantitative", "axis": {"orient": "right", "values": [-0.6, -0.3, 0, 0.3, 0.6], "labels": false, "title": null, "tickSize": -4}}}}
      ]
    }
  ],
  "config": {
    "font": "Liberation Sans",
    "view": {"stroke": "#888888", "strokeWidth": 1},
    "locale": {"number": {"decimal": ".", "thousands": ",", "grouping": [3], "currency": ["$", ""], "minus": "-"}},
    "axis": {"domain": false, "grid": false, "tickColor": "#888888", "labelFontSize": 16, "labelColor": "#333333", "titleFontSize": 19, "titleColor": "#222222", "titleFontWeight": "normal", "labelFlush": false, "labelOverlap": false, "labelBound": false},
    "axisX": {"tickSize": -4, "labelPadding": 7, "titleBaseline": "middle"},
    "axisY": {"tickSize": 4, "labelPadding": 1, "titleBaseline": "middle"}
  }
}
